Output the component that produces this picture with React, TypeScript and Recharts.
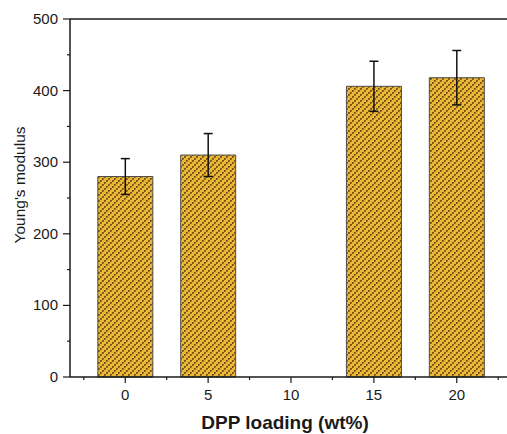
import { Bar, BarChart, ErrorBar, ReferenceLine, XAxis, YAxis } from "recharts";

// DPP loading (wt%) for each bar, 10 wt% has no bar
const loadings = [0, 5, 15, 20];
const modulus = [280, 310, 406, 418];
const modulusErr = [25, 30, 35, 38];

const xTicks = [-2.5, 0, 2.5, 5, 7.5, 10, 12.5, 15, 17.5, 20, 22.5];
const yTicks = [0, 50, 100, 150, 200, 250, 300, 350, 400, 450, 500];

const data = loadings.map((x, i) => ({ x, v: modulus[i], err: modulusErr[i] }));

const FONT = "Arial, 'Liberation Sans', sans-serif";
const INK = "#1a1a1a";

const XTick = (props: { x?: number; y?: number; payload?: { value: number } }) => {
  const { x = 0, y = 0, payload } = props;
  if (!payload) return null;
  const major = payload.value % 5 === 0;
  return (
    <g>
      <line x1={x} x2={x} y1={y} y2={y + (major ? 6 : 3)} stroke={INK} strokeWidth={1.2} />
      {major && (
        <text x={x} y={y + 23} textAnchor="middle" fontSize={15} fontFamily={FONT} fill={INK}>
          {payload.value}
        </text>
      )}
    </g>
  );
};

const YTick = (props: { x?: number; y?: number; payload?: { value: number } }) => {
  const { x = 0, y = 0, payload } = props;
  if (!payload) return null;
  const major = payload.value % 100 === 0;
  return (
    <g>
      <line x1={x} x2={x - (major ? 7 : 3)} y1={y} y2={y} stroke={INK} strokeWidth={1.2} />
      {major && (
        <text x={x - 12} y={y + 5} textAnchor="end" fontSize={15} fontFamily={FONT} fill={INK}>
          {payload.value}
        </text>
      )}
    </g>
  );
};

export default function App() {
  return (
    <div style={{ position: "absolute", left: 0, top: 0, width: 507, height: 434, overflow: "hidden", background: "#fff" }}>
      <BarChart width={520} height={434} data={data} margin={{ top: 19, right: 8, left: 10, bottom: 0 }}>
        <defs>
          <pattern id="weave" patternUnits="userSpaceOnUse" width="6" height="6">
            <rect width="6" height="6" fill="#ebb632" />
            <rect x="0" y="4" width="2" height="2" fill="#76561a" />
            <rect x="2" y="2" width="2" height="2" fill="#76561a" />
            <rect x="4" y="0" width="2" height="2" fill="#76561a" />
            <rect x="1" y="5" width="1" height="1" fill="#a88026" />
            <rect x="3" y="3" width="1" height="1" fill="#a88026" />
            <rect x="5" y="1" width="1" height="1" fill="#a88026" />
          </pattern>
        </defs>
        <XAxis
          dataKey="x"
          type="number"
          domain={[-10 / 3, 70 / 3]}
          ticks={xTicks}
          interval={0}
          height={57}
          tickSize={0}
          tickMargin={0}
          tickLine={false}
          tick={<XTick />}
          axisLine={{ stroke: INK, strokeWidth: 1.5 }}
          label={{
            value: "DPP loading (wt%)",
            position: "insideBottom",
            offset: 5,
            dx: -6,
            style: { fontFamily: FONT, fontSize: 19, fontWeight: "bold", fill: INK },
          }}
        />
        <YAxis
          domain={[0, 500]}
          ticks={yTicks}
          interval={0}
          width={60}
          tickSize={0}
          tickMargin={0}
          tickLine={false}
          tick={<YTick />}
          axisLine={{ stroke: INK, strokeWidth: 1.5 }}
          label={{
            value: "Young's modulus",
            content: () => (
              <text
                x={25}
                y={185}
                transform="rotate(-90, 25, 185)"
                textAnchor="middle"
                fontSize={15.5}
                fontFamily={FONT}
                fill={INK}
              >
                Young's modulus
              </text>
            ),
          }}
        />
        <ReferenceLine y={500} stroke={INK} strokeWidth={1.5} />
        <Bar dataKey="v" barSize={55} fill="url(#weave)" stroke="#4d4d4d" strokeWidth={1} isAnimationActive={false}>
          <ErrorBar dataKey="err" direction="y" width={4.5} stroke="#111" strokeWidth={1.5} />
        </Bar>
      </BarChart>
    </div>
  );
}
